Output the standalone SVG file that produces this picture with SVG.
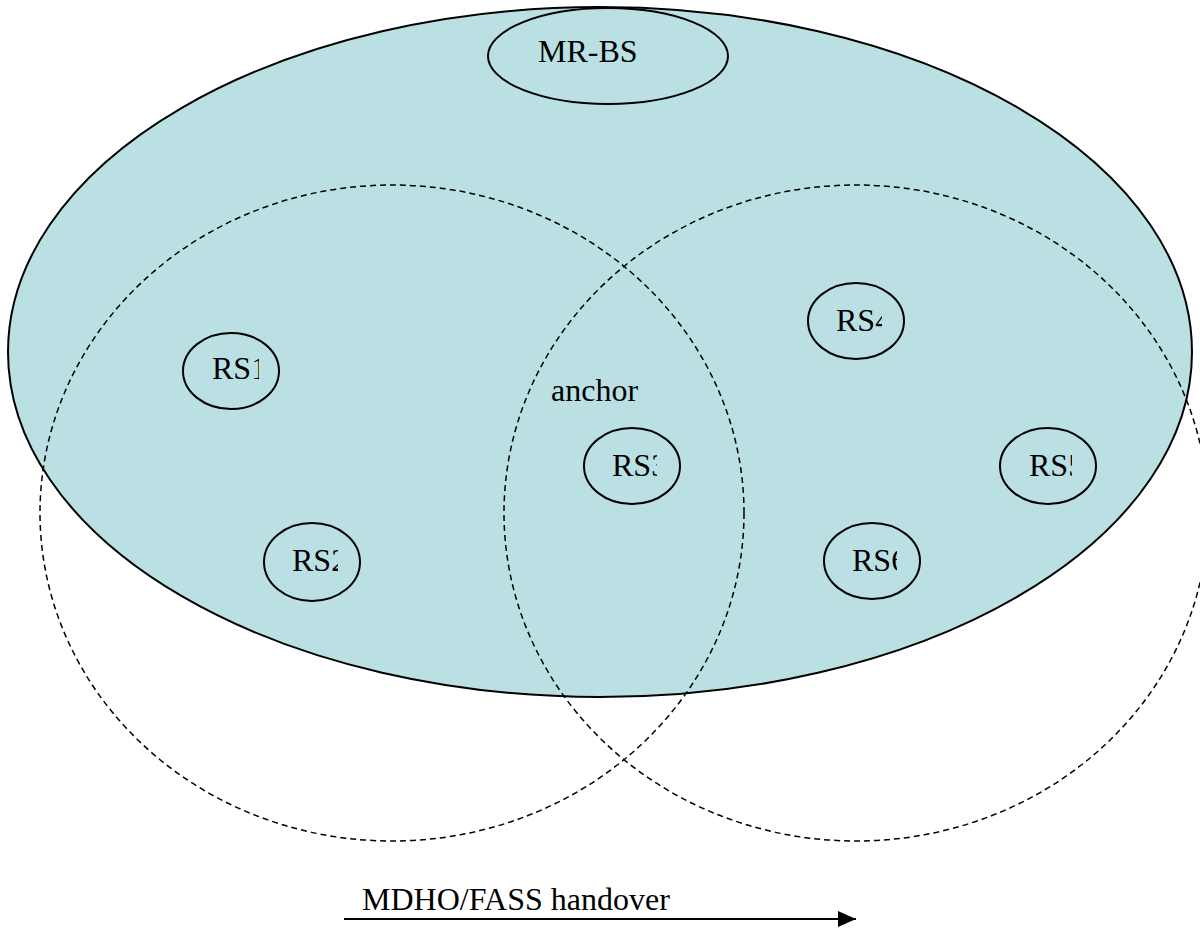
<svg xmlns="http://www.w3.org/2000/svg" width="1200" height="932" viewBox="0 0 1200 932">
<style>
.area{fill:#bae0e3;stroke:#000;stroke-width:2}
.node{fill:#bae0e3;stroke:#000;stroke-width:2}
.cov{fill:none;stroke:#000;stroke-width:1.5;stroke-dasharray:6 4}
.t{font-family:"Liberation Serif","Times New Roman",serif;font-size:32px;fill:#000}
</style>
<defs>
<marker id="ah" markerWidth="18" markerHeight="16" refX="18" refY="8" orient="auto" markerUnits="userSpaceOnUse">
<path d="M0,0 L18,8 L0,16 Z" fill="#000"/>
</marker>
<clipPath id="c1"><rect x="180" y="330" width="79" height="80"/></clipPath>
<clipPath id="c2"><rect x="260" y="520" width="78" height="85"/></clipPath>
<clipPath id="c3"><rect x="580" y="425" width="77" height="85"/></clipPath>
<clipPath id="c4"><rect x="800" y="280" width="82" height="85"/></clipPath>
<clipPath id="c5"><rect x="995" y="425" width="77" height="85"/></clipPath>
<clipPath id="c6"><rect x="820" y="520" width="77" height="85"/></clipPath>
</defs>
<rect width="1200" height="932" fill="#fff"/>
<g id="area"><ellipse class="area" cx="600" cy="352" rx="592" ry="345"/></g>
<g id="coverage-left"><ellipse class="cov" cx="392" cy="513" rx="352" ry="328"/></g>
<g id="coverage-right"><ellipse class="cov" cx="856" cy="513" rx="352" ry="328"/></g>
<g id="mr-bs"><ellipse class="node" cx="608" cy="56" rx="120" ry="48"/><text class="t" x="538" y="62">MR-BS</text></g>
<g id="rs1"><ellipse class="node" cx="231" cy="371" rx="48" ry="38"/><text class="t" x="212" y="379" clip-path="url(#c1)">RS1</text></g>
<g id="rs2"><ellipse class="node" cx="312" cy="562" rx="48" ry="39"/><text class="t" x="292" y="571" clip-path="url(#c2)">RS2</text></g>
<g id="rs3"><ellipse class="node" cx="632" cy="466" rx="48" ry="38"/><text class="t" x="612" y="476" clip-path="url(#c3)">RS3</text></g>
<g id="rs4"><ellipse class="node" cx="856" cy="321" rx="48" ry="38"/><text class="t" x="836" y="331" clip-path="url(#c4)">RS4</text></g>
<g id="rs5"><ellipse class="node" cx="1048" cy="466" rx="48" ry="38"/><text class="t" x="1029" y="476" clip-path="url(#c5)">RS5</text></g>
<g id="rs6"><ellipse class="node" cx="872" cy="561" rx="48" ry="38"/><text class="t" x="852" y="571" clip-path="url(#c6)">RS6</text></g>
<g id="anchor-label"><text class="t" x="551" y="401">anchor</text></g>
<g id="connectors">
<line x1="344" y1="919" x2="856" y2="919" stroke="#000" stroke-width="2" marker-end="url(#ah)"/>
</g>
<g id="handover-label"><text class="t" x="362" y="910">MDHO/FASS handover</text></g>
</svg>
